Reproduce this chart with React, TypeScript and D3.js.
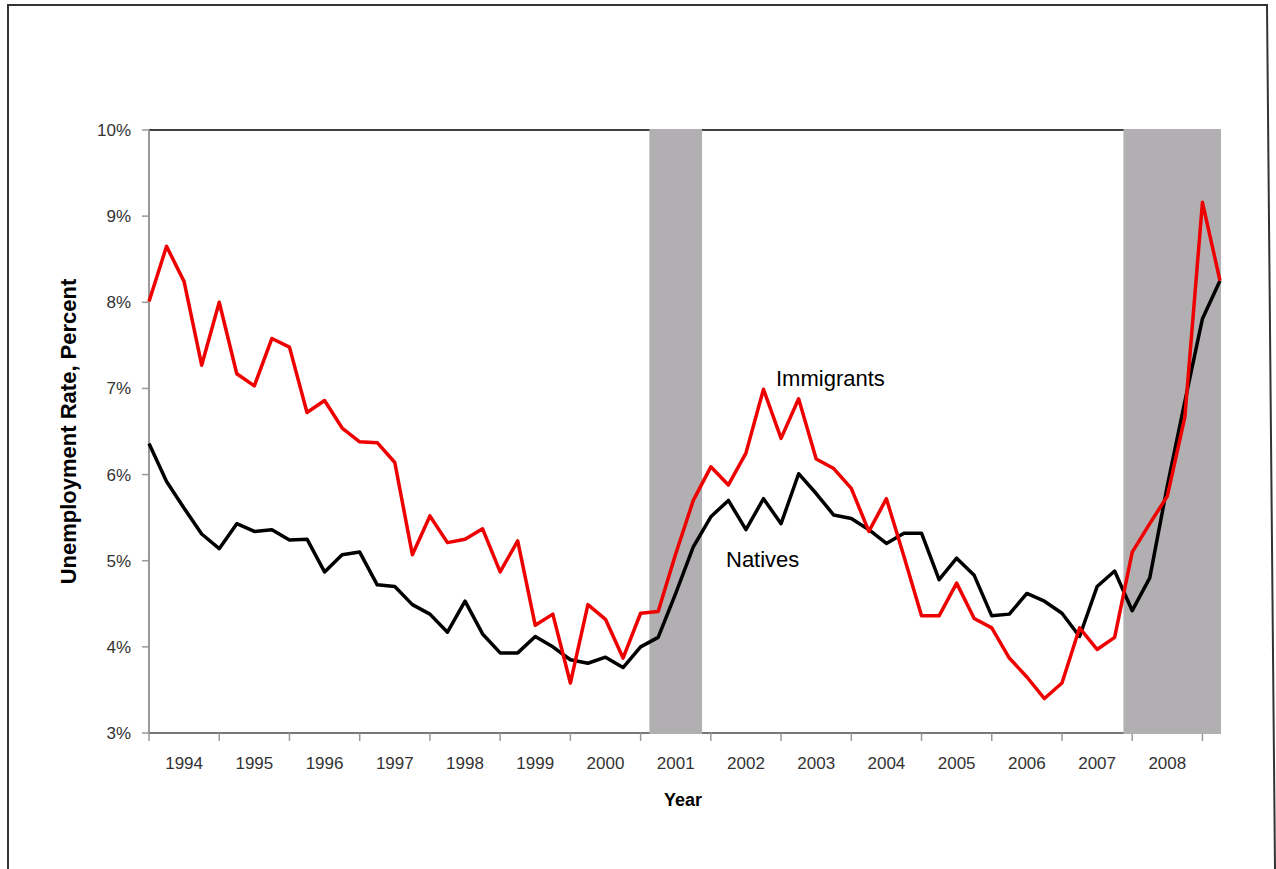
import * as d3 from 'd3';

// quarterly unemployment rates (%)
const immigrants = [
  8.01, 8.65, 8.24, 7.27, 8.0, 7.17, 7.03, 7.58, 7.48, 6.72, 6.86, 6.54, 6.38, 6.37, 6.14, 5.07,
  5.52, 5.21, 5.25, 5.37, 4.87, 5.23, 4.25, 4.38, 3.58, 4.49, 4.32, 3.87, 4.39, 4.41, 5.08, 5.7,
  6.09, 5.88, 6.25, 6.99, 6.42, 6.88, 6.18, 6.07, 5.84, 5.34, 5.72, 5.05, 4.36, 4.36, 4.74, 4.33,
  4.22, 3.87, 3.65, 3.4, 3.58, 4.22, 3.97, 4.11, 5.1, 5.43, 5.75, 6.67, 9.16, 8.25,
];

const natives = [
  6.36, 5.92, 5.61, 5.31, 5.14, 5.43, 5.34, 5.36, 5.24, 5.25, 4.87, 5.07, 5.1, 4.72, 4.7, 4.49,
  4.38, 4.17, 4.53, 4.15, 3.93, 3.93, 4.12, 4.0, 3.85, 3.81, 3.88, 3.76, 4.0, 4.11, 4.62, 5.16,
  5.51, 5.7, 5.36, 5.72, 5.43, 6.01, 5.78, 5.53, 5.49, 5.36, 5.2, 5.32, 5.32, 4.78, 5.03, 4.83,
  4.36, 4.38, 4.62, 4.53, 4.39, 4.12, 4.7, 4.88, 4.42, 4.8, 5.87, 6.85, 7.81, 8.25,
];

const yearLabels = [
  '1994', '1995', '1996', '1997', '1998', '1999', '2000', '2001',
  '2002', '2003', '2004', '2005', '2006', '2007', '2008',
];

const yTicks = [3, 4, 5, 6, 7, 8, 9, 10];

// recession quarters (first and last index of each shaded span)
const recessions = [
  { start: 29, end: 31 },
  { start: 56, end: 61 },
];

const W = 1276;
const H = 869;
const left = 149;
const right = 1220;
const top = 130;
const bottom = 733;

const font = '"Liberation Sans", Arial, sans-serif';

export default function App() {
  const n = immigrants.length;
  const x = d3.scaleLinear().domain([0, n - 1]).range([left, right]);
  const y = d3.scaleLinear().domain([3, 10]).range([bottom, top]);

  const line = d3
    .line<number>()
    .x((_, i) => x(i))
    .y(d => y(d));

  const tickIdx = d3.range(0, yearLabels.length + 1).map(k => k * 4);

  return (
    <svg
      width={W}
      height={H}
      style={{ position: 'absolute', left: 0, top: 0, display: 'block', background: '#fff' }}
      fontFamily={font}
    >
      {/* outer frame */}
      <path d={`M8,${H} L8,5 L1267,5 L1275,${H}`} fill="none" stroke="#333" strokeWidth={2} />

      {/* plot frame */}
      <line x1={left} x2={right + 1} y1={top} y2={top} stroke="#000" strokeWidth={1.5} />
      <line x1={left} x2={left} y1={top} y2={bottom} stroke="#999" strokeWidth={2} />
      <line x1={left} x2={right + 1} y1={bottom} y2={bottom} stroke="#777" strokeWidth={2} />

      {/* y ticks */}
      {yTicks.map(t => (
        <g key={t}>
          <line x1={left - 7} x2={left} y1={y(t)} y2={y(t)} stroke="#999" strokeWidth={1.5} />
          <text x={131} y={y(t) + 6} textAnchor="end" fontSize={17} fill="#333">
            {d3.format('.0%')(t / 100)}
          </text>
        </g>
      ))}

      {/* x ticks and year labels */}
      {tickIdx.map(i => (
        <line key={i} x1={x(i)} x2={x(i)} y1={bottom} y2={bottom + 8} stroke="#999" strokeWidth={1.5} />
      ))}
      {yearLabels.map((lab, k) => (
        <text key={lab} x={x(k * 4 + 2)} y={769} textAnchor="middle" fontSize={17} fill="#333">
          {lab}
        </text>
      ))}

      {/* recession shading */}
      {recessions.map(r => {
        const x0 = x(r.start - 0.5);
        const x1 = Math.min(x(r.end + 0.5), right + 1);
        return (
          <rect key={r.start} x={x0} y={top - 1} width={x1 - x0} height={bottom - top + 2} fill="#b2afb2" />
        );
      })}

      {/* series */}
      <path d={line(natives) ?? ''} fill="none" stroke="#000" strokeWidth={3.5} strokeLinejoin="round" />
      <path d={line(immigrants) ?? ''} fill="none" stroke="#ee0000" strokeWidth={3.5} strokeLinejoin="round" />

      {/* annotations */}
      <text x={776} y={386} fontSize={22} fill="#000">Immigrants</text>
      <text x={726} y={567} fontSize={22} fill="#000">Natives</text>

      {/* axis titles */}
      <text
        transform={`translate(76,${(top + bottom) / 2}) rotate(-90)`}
        textAnchor="middle"
        fontSize={22}
        fontWeight="bold"
        fill="#000"
      >
        Unemployment Rate, Percent
      </text>
      <text x={683} y={806} textAnchor="middle" fontSize={18} fontWeight="bold" fill="#000">
        Year
      </text>
    </svg>
  );
}
